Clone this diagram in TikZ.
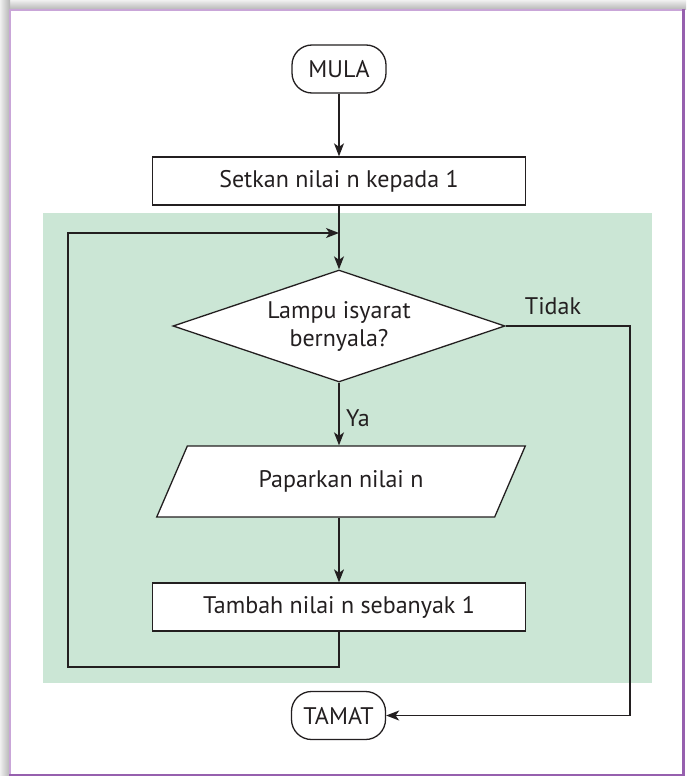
\documentclass[tikz,border=0pt]{standalone}
\usepackage{fontspec}
\setmainfont{PT Sans}
\usetikzlibrary{arrows.meta,shapes.geometric}

\definecolor{framepurple}{HTML}{9660AE}
\definecolor{framelight}{HTML}{C9A6D8}
\definecolor{loopgreen}{HTML}{CBE6D5}
\definecolor{ink}{HTML}{231F20}

\begin{document}
\begin{tikzpicture}[x=1pt,y=-1pt,
  font=\fontsize{24}{28}\selectfont,
  line/.style={draw=ink, line width=1.3pt},
  flow/.style={line, -{Stealth[length=13pt,width=10pt,inset=3.5pt]}},
  terminal/.style={line, rectangle, rounded corners=20pt, minimum width=94pt,
    minimum height=48pt, inner sep=0pt, fill=white, text=ink},
  process/.style={line, rectangle, minimum width=373pt,
    minimum height=48pt, inner sep=0pt, fill=white, text=ink},
  decision/.style={line, diamond, minimum width=332pt, minimum height=112pt,
    aspect=2.96, inner sep=0pt, fill=white, text=ink, align=center},
  inout/.style={line, trapezium, trapezium left angle=53,
    trapezium right angle=127, trapezium stretches=true,
    minimum width=369pt, minimum height=71pt, inner sep=0pt,
    fill=white, text=ink},
  tag/.style={text=ink, inner sep=0pt}
]
\useasboundingbox (0,0) rectangle (686,776);

% drop shadow along the top and left of the card
\shade[top color=gray!12, bottom color=gray!60] (0,0) rectangle (686,10);
\shade[left color=gray!12, right color=gray!60] (0,0) rectangle (10,776);

% card with purple frame
\fill[white] (10,10) rectangle (683.5,775);
\draw[framelight, line width=2pt] (10,775) -- (10,10) -- (683.5,10);
\draw[framepurple, line width=3pt] (683.5,9) -- (683.5,775) -- (9,775);

% shaded loop region
\fill[loopgreen] (43,213) rectangle (652,683);

% flowchart boxes
\node[terminal] (mula)   at (339,69)    {MULA};
\node[process]  (setkan) at (339,181)   {Setkan nilai n kepada 1};
\node[decision] (lampu)  at (339,326)   {Lampu isyarat\\bernyala?};
\node[inout]    (papar)  at (341,481.5) {Paparkan nilai n};
\node[process]  (tambah) at (339,607)   {Tambah nilai n sebanyak 1};
\node[terminal] (tamat)  at (338.5,715.5) {TAMAT};

% branch labels
\node[tag, anchor=west] (ya)    at (346,418) {Ya};
\node[tag]              (tidak) at (553,306) {Tidak};

% loop-back and exit routing points
\coordinate (loopbl) at (68,667);
\coordinate (looptl) at (68,233);
\coordinate (join)   at (339,233);
\coordinate (exitr)  at (630,326);

% connectors
\draw[flow] (mula) -- (setkan);
\draw[flow] (setkan) -- (lampu);
\draw[flow] (lampu.south) -- (lampu.south |- papar.north);
\draw[flow] (papar.south -| tambah.north) -- (tambah.north);
\draw[flow] (tambah.south) |- (loopbl) -- (looptl) -- (join);
\draw[flow] (lampu.east) -- (exitr) |- (tamat.east);
\end{tikzpicture}
\end{document}
